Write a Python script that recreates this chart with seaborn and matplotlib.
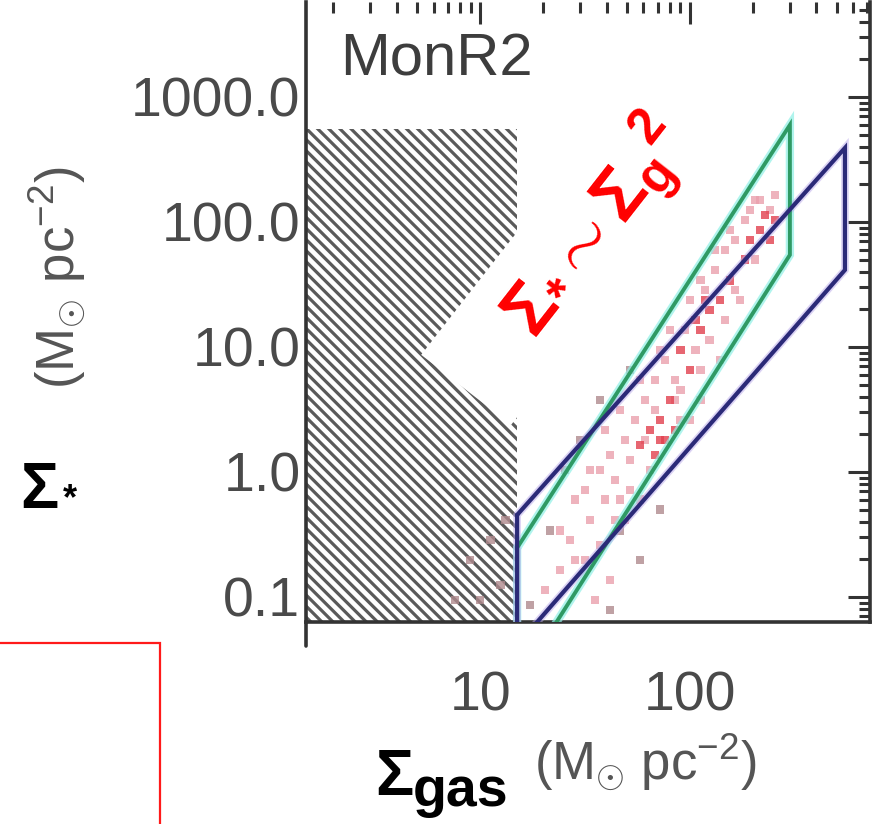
import matplotlib
matplotlib.use("Agg")
import matplotlib.pyplot as plt
import seaborn as sns
import pandas as pd
from matplotlib.patches import Rectangle
from matplotlib.lines import Line2D
from matplotlib.ticker import LogLocator, NullFormatter

sns.set_style("white")
plt.rcParams["font.family"] = ["Liberation Sans", "DejaVu Sans"]
plt.rcParams["mathtext.fontset"] = "custom"
plt.rcParams["mathtext.rm"] = "Liberation Sans"
plt.rcParams["mathtext.it"] = "Liberation Sans:italic"
plt.rcParams["mathtext.bf"] = "Liberation Sans:bold"
plt.rcParams["hatch.linewidth"] = 2.3

# ---------------- data ----------------
x_limits = [1.48, 720]
y_limits = [0.063, 5750]
x_ticks = [10, 100]
x_ticklabels = ["10", "100"]
y_ticks = [0.1, 1, 10, 100, 1000]
y_ticklabels = ["0.1", "1.0", "10.0", "100.0", "1000.0"]

# extinction-limited (hatched) region
hatch_gas_max = 15
hatch_star_max = 550

# parallelogram bounds (Sigma_gas, Sigma_*)
navy_gas = [15, 547, 547, 15, 15]
navy_star = [0.453, 391, 41.3, 0.0413, 0.453]
green_gas = [15, 299, 299, 15, 15]
green_star = [0.247, 597, 54.5, 0.0201, 0.247]

# YSO points
red_gas = [64.5, 72, 76, 80, 57.8, 112, 124, 139, 215, 228, 240, 183, 100, 90, 155,
           68, 72, 85, 106, 118, 193, 254]
red_star = [2.17, 2.61, 1.80, 3.77, 1.64, 13.7, 19.8, 23.8, 86, 114, 72, 50, 6.5, 9.5, 34,
            1.37, 1.80, 2.17, 16.4, 23.8, 72, 104]

pink_gas = [37.3, 41.6, 44, 49, 51.8, 54.7, 61, 68, 85, 94.6, 106, 118, 131.5, 147, 164,
            193, 204, 254, 173, 46.4, 33.4, 31.6, 26.8, 28.3, 37.3, 41.6, 24, 20.4, 76,
            112, 90, 64.5, 49, 57.8, 35.3,
            33.4, 39.4, 46.4, 57.8, 72, 80, 100, 112, 131.5, 155, 183, 215, 68, 85, 124,
            147, 164, 204, 240, 28.3, 39.4, 51.8, 44, 24, 31.6, 100, 61, 112, 90, 139]
pink_star = [1.04, 1.37, 0.86, 1.80, 1.25, 2.61, 3.77, 5.45, 5.45, 13.7, 9.5, 28.6, 41.3, 59.7, 72,
             125, 150, 164, 23.8, 0.60, 0.41, 0.72, 0.286, 0.198, 0.26, 0.137, 0.164, 0.114, 7.9,
             3.77, 2.61, 1.04, 0.41, 0.60, 0.095,
             1.04, 2.17, 3.13, 5.45, 9.5, 13.7, 23.8, 34.4, 59.7, 86, 104, 150, 3.13, 3.77, 11.4,
             16.4, 28.6, 50, 125, 0.60, 0.60, 0.72, 0.41, 0.34, 0.198, 2.61, 1.80, 6.5, 4.53, 7.9]

brown_gas = [8.96, 11.2, 12.5, 7.6, 13.2, 10, 17.3, 21.5, 25.4, 29.9, 37.3, 51.8, 46.4, 57.8, 72, 41.6]
brown_star = [0.198, 0.286, 0.125, 0.095, 0.41, 0.095, 0.086, 0.34, 1.04, 1.80, 3.77, 6.5, 0.34, 0.198, 0.50, 0.079]

points = pd.concat([
    pd.DataFrame({"gas": brown_gas, "star": brown_star, "kind": "faint"}),
    pd.DataFrame({"gas": pink_gas, "star": pink_star, "kind": "pink"}),
    pd.DataFrame({"gas": red_gas, "star": red_star, "kind": "red"}),
], ignore_index=True)

W, H = 877, 824
fig = plt.figure(figsize=(W / 100, H / 100), dpi=100)
ax = fig.add_axes([306 / W, 1 - 622 / H, (870 - 306) / W, (622 - 2) / H])
ax.set_xscale("log")
ax.set_yscale("log")
ax.set_xlim(*x_limits)
ax.set_ylim(*y_limits)

# hatched region
ax.fill_between([x_limits[0], hatch_gas_max], [y_limits[0] * 0.5] * 2, [hatch_star_max] * 2,
                facecolor="white", edgecolor="#5a5a5a", hatch="\\\\\\", linewidth=0, zorder=1)

sns.scatterplot(data=points, x="gas", y="star", hue="kind",
                palette={"faint": "#b08a8e", "pink": "#eaa0ad", "red": "#e2404e"},
                marker="s", s=36, linewidth=0, alpha=0.8, legend=False, ax=ax, zorder=2)

ax.plot(green_gas, green_star, color="#8ff0e6", lw=6, alpha=0.7, zorder=3, solid_joinstyle="miter")
ax.plot(green_gas, green_star, color="#2f9a64", lw=2.8, zorder=4, solid_joinstyle="miter")
ax.plot(navy_gas, navy_star, color="#b9a8ea", lw=5.5, alpha=0.5, zorder=3, solid_joinstyle="miter")
ax.plot(navy_gas, navy_star, color="#2b2a78", lw=3, zorder=5, solid_joinstyle="miter")

ax.set_xlabel("")
ax.set_ylabel("")
ax.set_xticks(x_ticks)
ax.set_xticklabels(x_ticklabels)
ax.set_yticks(y_ticks)
ax.set_yticklabels(y_ticklabels)
ax.xaxis.set_minor_locator(LogLocator(base=10, subs=range(2, 10), numticks=20))
ax.yaxis.set_minor_locator(LogLocator(base=10, subs=range(2, 10), numticks=20))
ax.xaxis.set_minor_formatter(NullFormatter())
ax.yaxis.set_minor_formatter(NullFormatter())
ax.tick_params(which="both", direction="in", top=True, right=True, color="#333333", width=2.2)
ax.tick_params(which="major", length=16)
ax.tick_params(which="minor", length=8)
ax.tick_params(axis="y", which="major", labelsize=40, labelcolor="#4a4a4a", pad=4)
ax.tick_params(axis="x", which="major", labelsize=40, labelcolor="#4a4a4a", pad=35)
for side in ["left", "right", "bottom"]:
    ax.spines[side].set_linewidth(2.6)
    ax.spines[side].set_color("#333333")
ax.spines["top"].set_visible(False)

# spine stub below the axis
fig.add_artist(Line2D([3.06, 3.06], [(H - 646) / 100, (H - 622) / 100],
                      transform=fig.dpi_scale_trans, color="#333333", lw=2.6))

def fx(px):
    return px / W

def fy(py):
    return 1 - py / H

fig.text(fx(340), fy(75), "MonR2", fontsize=43, color="#3d3d3d", va="baseline", ha="left")

unit = r"$(\mathrm{M_{\odot}\ pc^{-2}})$"
fig.text(fx(57), fy(278), unit, rotation=90, ha="center", va="center", fontsize=38, color="#555555")
fig.text(fx(645), fy(762), unit, ha="center", va="center", fontsize=38, color="#555555")

fig.text(fx(20), fy(508), "Σ", fontsize=46, fontweight="bold", color="black", ha="left", va="baseline")
fig.text(fx(70), fy(500), "*", fontsize=26, fontweight="bold", color="black", ha="center", va="center")
fig.text(fx(375), fy(795), "Σ", fontsize=46, fontweight="bold", color="black", ha="left", va="baseline")
fig.text(fx(413), fy(806), "gas", fontsize=40, fontweight="bold", color="black", ha="left", va="baseline")

# white rotated box + red relation
box = Rectangle((5.11, (H - 425) / 100), 3.5, 1.14, angle=52, transform=fig.dpi_scale_trans,
                facecolor="white", edgecolor="none", zorder=2)
fig.add_artist(box)
fig.text(fx(535), fy(340), r"$\mathbf{\Sigma_{*} \sim \Sigma_{g}{}^{2}}$", rotation=52,
         rotation_mode="anchor", ha="left", va="baseline", fontsize=52, color="#ff0000", zorder=3)

red_box = Rectangle((-0.2, -0.2), 1.6 + 0.2, (H - 643) / 100 + 0.2, transform=fig.dpi_scale_trans,
                    fill=False, edgecolor="#ff1a1a", lw=1.6, zorder=3)
fig.add_artist(red_box)

fig.savefig("out.png", dpi=100)
